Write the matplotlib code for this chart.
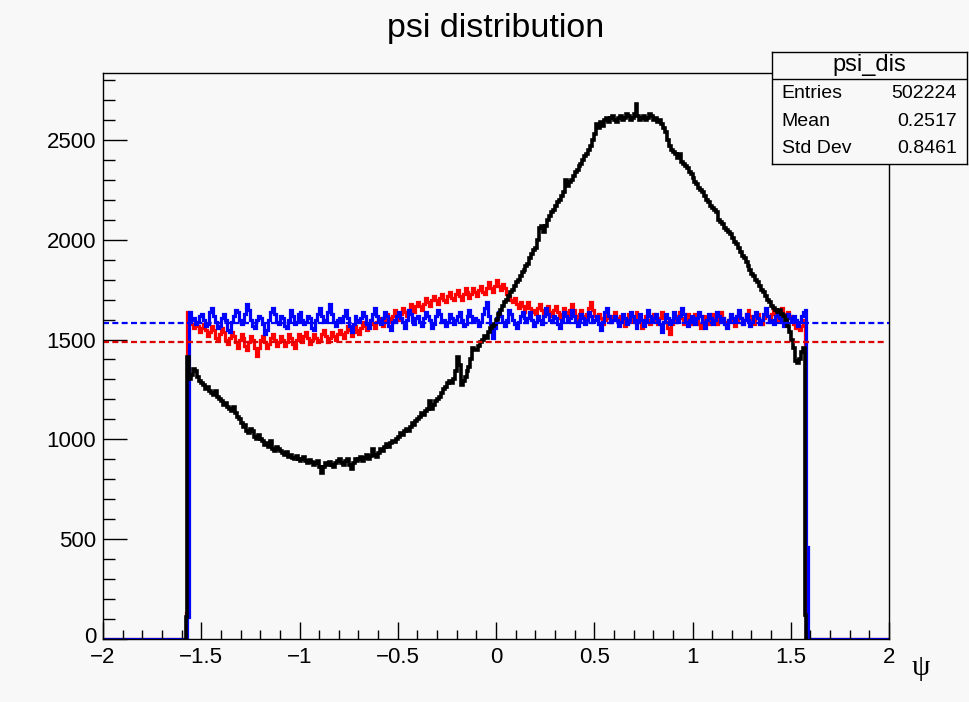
import numpy as np
import matplotlib
matplotlib.use('Agg')
from matplotlib import pyplot as plt
from matplotlib.ticker import MultipleLocator
from matplotlib.transforms import ScaledTranslation

# bin contents, bins of width 0.01 starting at psi = -1.58
psi_start = -1.58
bin_width = 0.01

black_counts = [
    110, 1410, 1300, 1320, 1350, 1340, 1310, 1290,
    1280, 1270, 1250, 1260, 1240, 1230, 1220, 1240, 1210, 1200,
    1190, 1170, 1180, 1160, 1150, 1140, 1160, 1130, 1110, 1100,
    1080, 1060, 1070, 1040, 1030, 1050, 1040, 1010, 1000, 1020,
    1000, 990, 970, 980, 960, 990, 950, 940, 960, 950,
    940, 930, 920, 935, 910, 920, 905, 900, 915, 900,
    890, 900, 910, 890, 880, 895, 885, 870, 880, 890,
    860, 830, 860, 880, 870, 885, 870, 860, 880, 890,
    900, 880, 870, 890, 900, 870, 850, 880, 900, 890,
    900, 910, 890, 905, 920, 900, 915, 950, 920, 910,
    930, 950, 940, 960, 975, 960, 980, 990, 985, 1000,
    1010, 1030, 1020, 1040, 1050, 1040, 1060, 1080, 1070, 1090,
    1100, 1110, 1130, 1120, 1140, 1150, 1190, 1150, 1170, 1190,
    1200, 1210, 1230, 1250, 1260, 1280, 1290, 1280, 1300, 1340,
    1410, 1370, 1270, 1290, 1310, 1340, 1360, 1400, 1460, 1450,
    1450, 1470, 1490, 1500, 1520, 1510, 1540, 1560, 1570, 1580,
    1600, 1630, 1650, 1670, 1690, 1700, 1720, 1740, 1750, 1770,
    1790, 1800, 1820, 1840, 1850, 1870, 1880, 1910, 1930, 1950,
    1960, 2000, 2060, 2070, 2040, 2070, 2100, 2120, 2140, 2150,
    2170, 2190, 2200, 2220, 2240, 2300, 2270, 2290, 2300, 2320,
    2340, 2350, 2370, 2380, 2400, 2420, 2430, 2450, 2470, 2500,
    2530, 2580, 2560, 2590, 2570, 2600, 2610, 2590, 2610, 2620,
    2600, 2590, 2610, 2620, 2600, 2610, 2630, 2620, 2600, 2610,
    2630, 2680, 2620, 2600, 2610, 2620, 2600, 2610, 2630, 2620,
    2600, 2610, 2590, 2600, 2580, 2560, 2540, 2500, 2470, 2450,
    2440, 2430, 2410, 2430, 2390, 2380, 2370, 2360, 2340, 2330,
    2310, 2290, 2280, 2260, 2250, 2240, 2220, 2200, 2190, 2170,
    2160, 2150, 2140, 2100, 2090, 2080, 2060, 2050, 2040, 2030,
    2010, 1990, 1980, 1960, 1940, 1920, 1910, 1890, 1870, 1850,
    1830, 1820, 1800, 1790, 1770, 1750, 1740, 1720, 1700, 1690,
    1670, 1660, 1650, 1640, 1650, 1630, 1620, 1600, 1570, 1540,
    1500, 1460, 1390, 1380, 1400, 1440, 1460, 120, 0,
]

red_counts = [
    130, 1640, 1600, 1580, 1560, 1590, 1570, 1540,
    1560, 1580, 1550, 1520, 1540, 1570, 1550, 1510, 1500, 1530,
    1560, 1540, 1500, 1480, 1510, 1540, 1520, 1490, 1460, 1500,
    1530, 1510, 1470, 1450, 1490, 1520, 1500, 1460, 1420, 1460,
    1500, 1520, 1490, 1460, 1480, 1510, 1530, 1500, 1470, 1490,
    1520, 1500, 1470, 1490, 1530, 1510, 1480, 1460, 1500, 1530,
    1510, 1490, 1520, 1540, 1510, 1480, 1500, 1530, 1510, 1490,
    1500, 1530, 1550, 1520, 1490, 1510, 1540, 1520, 1500, 1530,
    1550, 1530, 1510, 1540, 1570, 1550, 1520, 1540, 1570, 1550,
    1530, 1560, 1590, 1570, 1550, 1580, 1600, 1580, 1560, 1590,
    1610, 1590, 1570, 1600, 1630, 1610, 1590, 1620, 1650, 1620,
    1600, 1630, 1660, 1640, 1620, 1650, 1680, 1660, 1640, 1670,
    1690, 1670, 1650, 1680, 1710, 1690, 1670, 1700, 1720, 1700,
    1680, 1710, 1730, 1700, 1690, 1720, 1740, 1710, 1700, 1730,
    1750, 1720, 1700, 1730, 1760, 1740, 1710, 1730, 1760, 1740,
    1720, 1750, 1770, 1740, 1730, 1760, 1790, 1760, 1740, 1770,
    1800, 1770, 1750, 1780, 1760, 1730, 1720, 1700, 1690, 1710,
    1680, 1660, 1690, 1670, 1640, 1660, 1690, 1660, 1640, 1650,
    1630, 1660, 1680, 1650, 1620, 1640, 1670, 1640, 1620, 1650,
    1670, 1640, 1610, 1630, 1660, 1640, 1620, 1650, 1680, 1650,
    1620, 1600, 1630, 1650, 1620, 1600, 1630, 1660, 1690, 1650,
    1620, 1600, 1630, 1610, 1580, 1600, 1630, 1610, 1590, 1620,
    1640, 1610, 1590, 1620, 1600, 1570, 1600, 1630, 1610, 1590,
    1610, 1640, 1620, 1590, 1560, 1590, 1620, 1600, 1580, 1610,
    1630, 1600, 1580, 1610, 1640, 1610, 1590, 1560, 1530, 1580,
    1610, 1590, 1620, 1640, 1610, 1580, 1600, 1630, 1600, 1580,
    1600, 1630, 1610, 1580, 1560, 1590, 1620, 1600, 1580, 1610,
    1630, 1600, 1580, 1610, 1640, 1610, 1590, 1570, 1600, 1620,
    1590, 1570, 1600, 1630, 1610, 1580, 1600, 1630, 1650, 1620,
    1600, 1580, 1610, 1630, 1600, 1580, 1610, 1640, 1620, 1600,
    1630, 1650, 1620, 1600, 1630, 1660, 1630, 1610, 1640, 1620,
    1600, 1580, 1560, 1580, 1550, 1570, 1600, 120, 0,
]

blue_counts = [
    0, 110, 1640, 1600, 1610, 1580, 1590, 1620,
    1630, 1600, 1570, 1580, 1640, 1660, 1620, 1590, 1560, 1570,
    1610, 1630, 1600, 1550, 1540, 1590, 1620, 1650, 1640, 1600,
    1580, 1590, 1630, 1680, 1650, 1600, 1570, 1560, 1600, 1620,
    1610, 1580, 1530, 1550, 1600, 1640, 1660, 1630, 1590, 1580,
    1620, 1610, 1570, 1560, 1600, 1650, 1620, 1580, 1590, 1630,
    1640, 1600, 1580, 1590, 1620, 1610, 1560, 1550, 1600, 1630,
    1660, 1620, 1590, 1600, 1640, 1680, 1630, 1590, 1570, 1600,
    1610, 1590, 1620, 1650, 1610, 1570, 1540, 1580, 1620, 1600,
    1590, 1610, 1640, 1620, 1580, 1560, 1600, 1630, 1660, 1620,
    1600, 1580, 1610, 1640, 1620, 1570, 1550, 1590, 1600, 1620,
    1640, 1610, 1590, 1560, 1600, 1650, 1630, 1600, 1580, 1610,
    1620, 1590, 1570, 1610, 1640, 1620, 1600, 1560, 1580, 1620,
    1650, 1630, 1590, 1600, 1570, 1590, 1630, 1610, 1580, 1600,
    1620, 1640, 1600, 1570, 1580, 1620, 1650, 1620, 1590, 1610,
    1600, 1570, 1590, 1630, 1660, 1690, 1620, 1580, 1510, 1560,
    1610, 1640, 1620, 1590, 1570, 1600, 1650, 1630, 1600, 1580,
    1560, 1590, 1620, 1640, 1610, 1590, 1610, 1640, 1600, 1570,
    1590, 1620, 1600, 1580, 1620, 1660, 1630, 1600, 1590, 1620,
    1610, 1580, 1560, 1600, 1640, 1620, 1590, 1610, 1650, 1620,
    1590, 1570, 1600, 1630, 1610, 1580, 1600, 1640, 1620, 1590,
    1600, 1620, 1580, 1550, 1590, 1640, 1660, 1620, 1590, 1600,
    1620, 1600, 1570, 1590, 1630, 1610, 1580, 1600, 1640, 1620,
    1590, 1560, 1600, 1630, 1600, 1570, 1600, 1650, 1620, 1590,
    1610, 1630, 1600, 1580, 1540, 1590, 1630, 1610, 1580, 1600,
    1640, 1610, 1590, 1620, 1660, 1630, 1590, 1570, 1600, 1620,
    1600, 1580, 1610, 1640, 1620, 1590, 1560, 1600, 1630, 1610,
    1580, 1600, 1640, 1620, 1590, 1610, 1580, 1560, 1600, 1630,
    1610, 1590, 1620, 1650, 1610, 1580, 1600, 1630, 1600, 1570,
    1590, 1620, 1640, 1610, 1580, 1600, 1630, 1660, 1620, 1590,
    1600, 1580, 1620, 1640, 1610, 1590, 1570, 1600, 1630, 1610,
    1590, 1620, 1600, 1570, 1590, 1620, 1640, 1650, 460,
]

red_level = 1488
blue_level = 1583

stats_title = 'psi_dis'
stats_rows = [('Entries', '502224'), ('Mean', '0.2517'), ('Std Dev', '0.8461')]

plt.rcParams['font.family'] = ['Liberation Sans', 'DejaVu Sans']
bg = '#f8f8f8'


def padded(counts):
    # put the counts on the full -2..2 grid, empty bins outside
    n_left = int(round((psi_start + 2) / bin_width))
    n_right = 400 - n_left - len(counts)
    return np.concatenate([np.zeros(n_left), counts, np.zeros(n_right)])


def main():
    fig = plt.figure(figsize=(9.69, 7.02), dpi=100, facecolor=bg)
    ax = fig.add_axes([103 / 969, 1 - 639 / 702, 786 / 969, 566 / 702], facecolor=bg)

    full_edges = np.linspace(-2, 2, 401)
    own_edges = psi_start + bin_width * np.arange(len(black_counts) + 1)

    ax.stairs(padded(red_counts), full_edges, color='#ff0000', lw=2.3, baseline=0)
    ax.stairs(padded(blue_counts), full_edges, color='#0000ff', lw=2.3, baseline=0)
    ax.stairs(black_counts, own_edges, color='black', lw=2.6, baseline=0)

    ax.hlines(blue_level, -2, 2, color='#0000ff', lw=1.6, linestyles=(0, (2.7, 1.5)))
    ax.hlines(red_level, -2, 1.98, color='#dd0000', lw=1.6, linestyles=(0, (2.7, 1.5)))

    ax.set_xlim(-2, 2)
    ax.set_ylim(0, 2835)
    ax.xaxis.set_major_locator(MultipleLocator(0.5))
    ax.xaxis.set_minor_locator(MultipleLocator(0.1))
    ax.yaxis.set_major_locator(MultipleLocator(500))
    ax.yaxis.set_minor_locator(MultipleLocator(100))
    ax.xaxis.set_major_formatter(lambda v, p: ('%g' % v).replace('-', '\u2212'))
    ax.tick_params(axis='x', which='major', direction='in', length=12.5, width=1, labelsize=16, pad=6)
    ax.tick_params(axis='x', which='minor', direction='in', length=6.2, width=1)
    ax.tick_params(axis='y', which='major', direction='in', length=17, width=1, labelsize=16, pad=5)
    ax.tick_params(axis='y', which='minor', direction='in', length=8.5, width=1)
    for s in ax.spines.values():
        s.set_linewidth(1)

    fig.text(496 / 969, 1 - 28 / 702, 'psi distribution', ha='center', va='center', fontsize=24.5)
    fig.text(921 / 969, 1 - 668 / 702, '\u03c8', ha='center', va='center', fontsize=21,
             family=['Liberation Serif', 'DejaVu Serif'])

    # stats box
    box = fig.add_axes([772 / 969, 1 - 164 / 702, 195 / 969, 112 / 702], facecolor=bg)
    box.set_xticks([])
    box.set_yticks([])
    box.set_xlim(0, 1)
    box.set_ylim(0, 1)
    for s in box.spines.values():
        s.set_linewidth(1)
    box.axhline(0.756, color='black', lw=1)
    box.text(0.5, 0.884, stats_title, ha='center', va='center', fontsize=17)
    row_y = [0.631, 0.378, 0.14]
    for (name, val), y in zip(stats_rows, row_y):
        box.text(0.05, y, name, ha='left', va='center', fontsize=14)
        box.text(0.947, y, val, ha='right', va='center', fontsize=14)

    # lift the "0" on the y axis a little, like ROOT does
    fig.canvas.draw()
    for lbl in ax.get_yticklabels():
        if lbl.get_text() == '0':
            lbl.set_transform(lbl.get_transform() + ScaledTranslation(0, 3 / 72, fig.dpi_scale_trans))

    fig.savefig('out.png', dpi=100, facecolor=bg)


if __name__ == '__main__':
    main()
